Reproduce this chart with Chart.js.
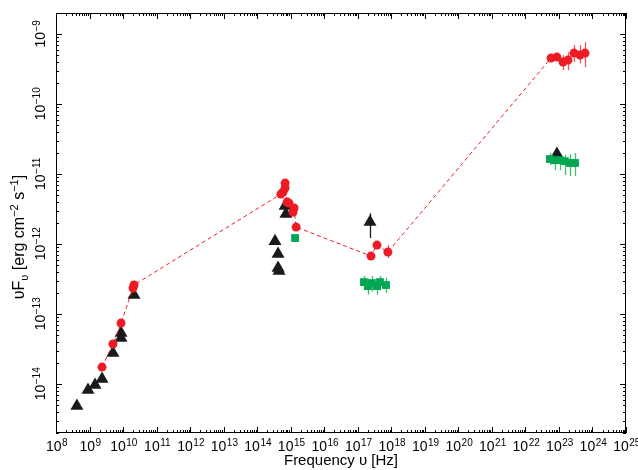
<!DOCTYPE html>
<html><head><meta charset="utf-8">
<script src="https://cdn.jsdelivr.net/npm/chart.js@4.4.1/dist/chart.umd.min.js"></script>
<style>html,body{margin:0;padding:0;background:#fff;}canvas{display:block;}</style>
</head><body>
<canvas id="c" width="638" height="470"></canvas>
<script>
// ---- data (frequency in Hz, nuFnu in erg cm^-2 s^-1) ----
const redFreq  = [2.36e9, 5.0e9, 8.7e9, 1.98e10, 2.12e10,
                  5.1e14, 5.9e14, 6.8e14, 6.8e14, 7.8e14, 8.9e14, 1.17e15, 1.26e15, 1.45e15,
                  2.48e17, 3.74e17, 7.9e17,
                  5.8e22, 8.7e22, 1.32e23, 1.86e23, 2.81e23, 4.25e23, 6.0e23];
const redFlux  = [1.75e-14, 3.73e-14, 7.43e-14, 2.35e-13, 2.60e-13,
                  5.18e-12, 5.53e-12, 7.43e-12, 6.31e-12, 3.98e-12, 3.85e-12, 2.86e-12, 3.27e-12, 1.75e-12,
                  6.74e-13, 9.68e-13, 7.69e-13,
                  4.54e-10, 4.69e-10, 3.98e-10, 4.25e-10, 5.35e-10, 5.01e-10, 5.35e-10];
const redErrLo = [null, null, null, null, null,
                  null, null, null, null, null, null, null, 2.9e-12, null,
                  null, 8.9e-13, 6.3e-13,
                  null, null, 3.06e-10, 3.06e-10, 3.98e-10, 3.85e-10, 3.38e-10];
const redErrHi = [null, null, null, null, null,
                  null, null, null, null, null, null, null, 3.27e-12, null,
                  null, 9.68e-13, 9.68e-13,
                  null, null, 5.0e-10, 5.5e-10, 6.96e-10, 6.96e-10, 7.69e-10];

const blackFreq  = [4.2e8, 9.0e8, 1.46e9, 2.36e9, 5.0e9, 8.7e9, 8.7e9, 2.12e10,
                    6.8e14, 7.2e14, 3.4e14, 4.2e14, 4.2e14, 4.5e14,
                    2.32e17, 8.7e22];
const blackFlux  = [4.85e-15, 8.2e-15, 9.7e-15, 1.18e-14, 2.77e-14, 4.54e-14, 5.35e-14, 1.87e-13,
                    3.49e-12, 2.68e-12, 1.10e-12, 7.2e-13, 4.54e-13, 4.11e-13,
                    2.06e-12, 1.93e-11];
const blackErrLo = [null, null, null, null, null, null, null, null,
                    null, null, null, null, null, null,
                    1.22e-12, null];
const blackErrHi = [null, null, null, null, null, null, null, null,
                    null, null, null, null, null, null,
                    2.75e-12, null];

const greenFreq  = [1.35e15,
                    1.53e17, 2.02e17, 2.65e17, 3.74e17, 4.6e17, 6.95e17,
                    5.4e22, 7.6e22, 1.07e23, 1.51e23, 2.14e23, 3.02e23];
const greenFlux  = [1.22e-12,
                    2.86e-13, 2.51e-13, 2.77e-13, 2.51e-13, 2.86e-13, 2.60e-13,
                    1.64e-11, 1.58e-11, 1.58e-11, 1.53e-11, 1.44e-11, 1.44e-11];
const greenErrLo = [null,
                    2.2e-13, 1.9e-13, 2.1e-13, 1.9e-13, 2.2e-13, 2.0e-13,
                    1.35e-11, 1.14e-11, 1.14e-11, 9.7e-12, 9.4e-12, 9.4e-12];
const greenErrHi = [null,
                    3.5e-13, 3.2e-13, 3.5e-13, 3.2e-13, 3.5e-13, 3.3e-13,
                    2.0e-11, 2.0e-11, 1.93e-11, 1.87e-11, 1.93e-11, 2.0e-11];

const xTickExps = [8,9,10,11,12,13,14,15,16,17,18,19,20,21,22,23,24,25];
const yTickExps = [-14,-13,-12,-11,-10,-9];
const xMin = 1e8, xMax = 1e25, yMin = 2e-15, yMax = 2e-9;

const RED = '#ED1C24', GREEN = '#00A651', BLACK = '#1a1a1a';
const FONT = '"Liberation Sans", Arial, Helvetica, sans-serif';

function expOf(v){ return Math.round(Math.log10(v)); }
function expText(e){ return String(e).replace('-', '\u2212'); }
function pts(xs, ys){ return xs.map((x,i) => ({x: x, y: ys[i]})); }

const errorBars = {
  id: 'errorBars',
  beforeDatasetsDraw(chart){
    const {ctx, scales:{x, y}} = chart;
    const sets = [
      [blackFreq, blackErrLo, blackErrHi, BLACK],
      [greenFreq, greenErrLo, greenErrHi, '#3cbf6e'],
      [redFreq, redErrLo, redErrHi, '#f0555a']
    ];
    ctx.save();
    ctx.lineWidth = 1.3;
    for (const [fx, lo, hi, col] of sets){
      ctx.strokeStyle = col;
      for (let i = 0; i < fx.length; i++){
        if (lo[i] == null || hi[i] == null) continue;
        const px = Math.round(x.getPixelForValue(fx[i])) + 0.5;
        ctx.beginPath();
        ctx.moveTo(px, y.getPixelForValue(lo[i]));
        ctx.lineTo(px, y.getPixelForValue(hi[i]));
        ctx.stroke();
      }
    }
    ctx.restore();
  }
};

const BASE = 14, EXP = 10;
const frameTicks = {
  id: 'frameTicks',
  afterDraw(chart){
    const {ctx, chartArea:{left, right, top, bottom}, scales:{x, y}} = chart;
    ctx.save();
    ctx.strokeStyle = '#000';
    ctx.lineWidth = 1;
    ctx.strokeRect(left + 0.5, top + 0.5, right - left - 1, bottom - top - 1);
    ctx.beginPath();
    for (let e = 8; e <= 25; e++){
      for (let m = 1; m <= 9; m++){
        const v = m * Math.pow(10, e);
        if (v > xMax * 1.0001) break;
        const px = Math.round(x.getPixelForValue(v)) + 0.5;
        const len = m === 1 ? 6 : 3;
        ctx.moveTo(px, bottom); ctx.lineTo(px, bottom - len);
        ctx.moveTo(px, top); ctx.lineTo(px, top + len);
      }
    }
    for (let e = -15; e <= -9; e++){
      for (let m = 1; m <= 9; m++){
        const v = m * Math.pow(10, e);
        if (v < yMin * 0.9999 || v > yMax * 1.0001) continue;
        const py = Math.round(y.getPixelForValue(v)) + 0.5;
        const len = m === 1 ? 6 : 3;
        ctx.moveTo(left, py); ctx.lineTo(left + len, py);
        ctx.moveTo(right, py); ctx.lineTo(right - len, py);
      }
    }
    ctx.stroke();

    ctx.fillStyle = '#000';
    ctx.textBaseline = 'alphabetic';
    ctx.textAlign = 'left';
    // x tick labels: 10 with superscript exponent
    for (const t of x.ticks){
      const px = x.getPixelForValue(t.value);
      const es = expText(expOf(t.value));
      ctx.font = BASE + 'px ' + FONT; const w1 = ctx.measureText('10').width;
      ctx.font = EXP + 'px ' + FONT; const w2 = ctx.measureText(es).width;
      const x0 = px - (w1 + w2) / 2 + 0.5;
      ctx.font = BASE + 'px ' + FONT; ctx.fillText('10', x0, 451);
      ctx.font = EXP + 'px ' + FONT; ctx.fillText(es, x0 + w1 + 0.5, 445.5);
    }
    // y tick labels: rotated
    for (const t of y.ticks){
      const py = y.getPixelForValue(t.value);
      const es = expText(expOf(t.value));
      ctx.font = BASE + 'px ' + FONT; const w1 = ctx.measureText('10').width;
      ctx.font = EXP + 'px ' + FONT; const w2 = ctx.measureText(es).width;
      ctx.save();
      ctx.translate(45, py);
      ctx.rotate(-Math.PI / 2);
      const u0 = -(w1 + w2) / 2;
      ctx.font = BASE + 'px ' + FONT; ctx.fillText('10', u0, 0);
      ctx.font = EXP + 'px ' + FONT; ctx.fillText(es, u0 + w1 + 0.5, -5.5);
      ctx.restore();
    }

    // y-axis title with sub/superscripts
    const segs = [
      {t:'υF', s:16, dy:0},
      {t:'υ', s:11, dy:4},
      {t:' [erg cm', s:16, dy:0},
      {t:'−2', s:11, dy:-6},
      {t:' s', s:16, dy:0},
      {t:'−1', s:11, dy:-6},
      {t:']', s:16, dy:0}
    ];
    let total = 0;
    for (const sg of segs){ ctx.font = sg.s + 'px ' + FONT; sg.w = ctx.measureText(sg.t).width; total += sg.w; }
    ctx.translate(19, 237);
    ctx.rotate(-Math.PI / 2);
    let cx = -total / 2;
    for (const sg of segs){
      ctx.font = sg.s + 'px ' + FONT;
      ctx.fillText(sg.t, cx, 5 + sg.dy);
      cx += sg.w;
    }
    ctx.restore();
  }
};

new Chart(document.getElementById('c'), {
  type: 'scatter',
  data: {
    datasets: [
      {
        label: 'red', data: pts(redFreq, redFlux), showLine: true,
        borderColor: RED, borderWidth: 1, borderDash: [4, 3],
        pointStyle: 'circle', pointRadius: 4.5, pointBackgroundColor: RED, pointBorderWidth: 0,
        order: 0
      },
      {
        label: 'green', data: pts(greenFreq, greenFlux),
        pointStyle: 'rect', pointRadius: 5.5, pointBackgroundColor: GREEN, pointBorderWidth: 0,
        order: 1
      },
      {
        label: 'black', data: pts(blackFreq, blackFlux),
        pointStyle: 'triangle', pointRadius: 7.5, pointBackgroundColor: BLACK, pointBorderWidth: 0,
        order: 2
      }
    ]
  },
  options: {
    responsive: false, animation: false, devicePixelRatio: 1,
    layout: {padding: {top: 13, right: 12, left: 0, bottom: 0}},
    plugins: {legend: {display: false}, tooltip: {enabled: false}},
    scales: {
      x: {
        type: 'logarithmic', position: 'bottom', min: xMin, max: xMax,
        grid: {display: false, drawTicks: false}, border: {display: false},
        afterBuildTicks: s => { s.ticks = xTickExps.map(e => ({value: Math.pow(10, e)})); },
        afterFit: s => { s.height = 37; },
        ticks: {display: false, autoSkip: false},
        title: {display: true, text: 'Frequency υ [Hz]', color: '#000',
                font: {family: FONT, size: 15}, padding: {top: 0, bottom: 0}}
      },
      y: {
        type: 'logarithmic', position: 'left', min: yMin, max: yMax,
        grid: {display: false, drawTicks: false}, border: {display: false},
        afterBuildTicks: s => { s.ticks = yTickExps.map(e => ({value: Math.pow(10, e)})); },
        afterFit: s => { s.width = 56; },
        ticks: {display: false, autoSkip: false}
      }
    }
  },
  plugins: [errorBars, frameTicks]
});
</script>
</body></html>
